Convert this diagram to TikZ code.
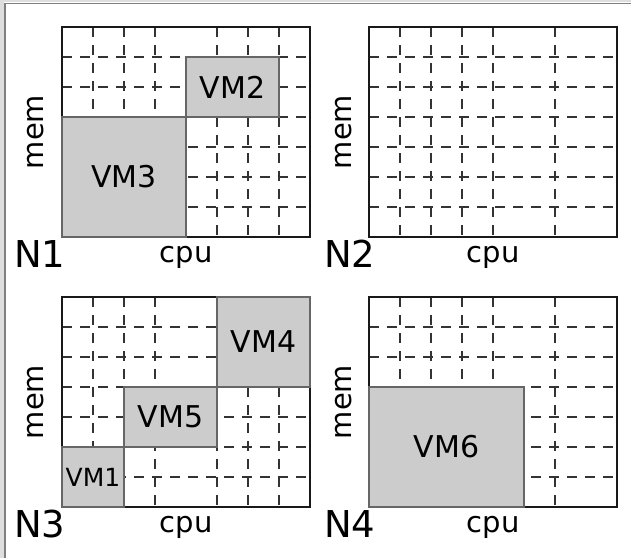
\documentclass[tikz,border=0pt]{standalone}
\usepackage{fontspec}
\setmainfont{DejaVu Sans}
\begin{document}
\begin{tikzpicture}[x=1pt,y=-1pt,
  gridline/.style={line width=2pt, dash pattern=on 9.5pt off 8.5pt, draw=black!80},
  gridborder/.style={line width=2pt, draw=black!90},
  vmbox/.style={fill=black!20, draw=black!60, line width=1.5pt},
  vmlabel/.style={font=\fontsize{30}{30}\selectfont, inner sep=0pt},
  vmsmall/.style={font=\fontsize{25}{25}\selectfont, inner sep=0pt},
  axislabel/.style={font=\fontsize{29}{29}\selectfont, inner sep=0pt},
  panellabel/.style={font=\fontsize{37}{37}\selectfont, inner sep=0pt, anchor=base west},
]
\useasboundingbox (0,0) rectangle (631,558);
\fill[white] (0,0) rectangle (631,558);
% outer frame
\fill[black!13] (0,0) rectangle (4,558);
\fill[black!13] (0,0) rectangle (631,2);
\draw[black!50, line width=1.5pt] (5,558) -- (5,3.5) -- (631,3.5);

% ---------- N1 ----------
\begin{scope}[shift={(62,27)}]
  \foreach \r in {1,...,6} \draw[gridline] (0,30*\r) -- (248,30*\r);
  \foreach \c in {1,2,3,5,6,7} \draw[gridline] (31*\c,0) -- (31*\c,210);
  \draw[gridborder] (0,0) rectangle (248,210);
  \draw[vmbox] (0,90) rectangle (124,210);
  \draw[vmbox] (124,30) rectangle (217,90);
  \node[vmlabel] (vm3) at (62,150) {VM3};
  \node[vmlabel] (vm2) at (170.5,60) {VM2};
  \node[axislabel, rotate=90] (mem1) at (-26,105) {mem};
  \node[axislabel, anchor=base] (cpu1) at (124,235) {cpu};
  \node[panellabel] (n1) at (-48,240) {N1};
\end{scope}

% ---------- N2 ----------
\begin{scope}[shift={(369,27)}]
  \foreach \r in {1,...,6} \draw[gridline] (0,30*\r) -- (248,30*\r);
  \foreach \c in {1,2,3,4,6} \draw[gridline] (31*\c,0) -- (31*\c,210);
  \draw[gridborder] (0,0) rectangle (248,210);
  \node[axislabel, rotate=90] (mem2) at (-25,105) {mem};
  \node[axislabel, anchor=base] (cpu2) at (124,235) {cpu};
  \node[panellabel] (n2) at (-45,240) {N2};
\end{scope}

% ---------- N3 ----------
\begin{scope}[shift={(62,297)}]
  \foreach \r in {1,...,6} \draw[gridline] (0,30*\r) -- (248,30*\r);
  \foreach \c in {1,2,3,5,6,7} \draw[gridline] (31*\c,0) -- (31*\c,210);
  \draw[gridborder] (0,0) rectangle (248,210);
  \draw[vmbox] (155,0) rectangle (248,90);
  \draw[vmbox] (62,90) rectangle (155,150);
  \draw[vmbox] (0,150) rectangle (62,210);
  \node[vmlabel] (vm4) at (201.5,45) {VM4};
  \node[vmlabel] (vm5) at (108.5,120) {VM5};
  \node[vmsmall] (vm1) at (31,180) {VM1};
  \node[axislabel, rotate=90] (mem3) at (-26,105) {mem};
  \node[axislabel, anchor=base] (cpu3) at (124,235) {cpu};
  \node[panellabel] (n3) at (-48,240) {N3};
\end{scope}

% ---------- N4 ----------
\begin{scope}[shift={(369,297)}]
  \foreach \r in {1,...,6} \draw[gridline] (0,30*\r) -- (248,30*\r);
  \foreach \c in {1,2,3,4,6} \draw[gridline] (31*\c,0) -- (31*\c,210);
  \draw[gridborder] (0,0) rectangle (248,210);
  \draw[vmbox] (0,90) rectangle (155,210);
  \node[vmlabel] (vm6) at (77.5,150) {VM6};
  \node[axislabel, rotate=90] (mem4) at (-25,105) {mem};
  \node[axislabel, anchor=base] (cpu4) at (124,235) {cpu};
  \node[panellabel] (n4) at (-45,240) {N4};
\end{scope}
\end{tikzpicture}
\end{document}
